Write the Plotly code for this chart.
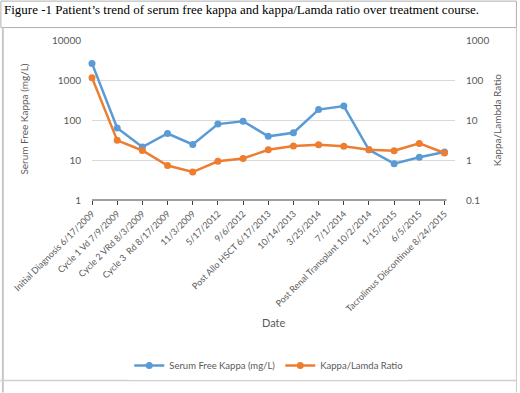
import plotly.graph_objects as go

categories = ["Initial Diagnosis 6/17/2009", "Cycle 1 Vd 7/9/2009", "Cycle 2 VRd 8/3/2009",
              "Cycle 3  Rd 8/17/2009", "11/3/2009", "5/17/2012", "9/6/2012",
              "Post Allo HSCT 6/17/2013", "10/14/2013", "3/25/2014", "7/1/2014",
              "Post Renal Transplant 10/2/2014", "1/15/2015", "6/5/2015",
              "Tacrolimus Discontinue 8/24/2015"]
serum_free_kappa = [2600, 63, 21, 46, 24.5, 79, 93, 39, 48, 182, 223, 18, 8.1, 11.7, 15.9]
kappa_lambda_ratio = [114, 3.1, 1.73, 0.73, 0.5, 0.93, 1.09, 1.8, 2.25, 2.4, 2.2, 1.8, 1.7, 2.6, 1.5]
left_ticks = [1, 10, 100, 1000, 10000]
right_ticks = [0.1, 1, 10, 100, 1000]

W, H = 520, 393
L, R, T, B = 91.7, 455.0, 39.5, 200.0

def px(x):
    return (x - L) / (R - L)

def py(y):
    return (B - y) / (B - T)

BLUE = "#5B9BD5"
ORANGE = "#ED7D31"
FONT = "Lato"
GRAY = "#595959"

fig = go.Figure()
fig.add_trace(go.Scatter(x=categories, y=serum_free_kappa, name="Serum Free Kappa (mg/L)",
                         mode="lines+markers", line=dict(color=BLUE, width=2.5),
                         marker=dict(size=7, color=BLUE), cliponaxis=False))
fig.add_trace(go.Scatter(x=categories, y=kappa_lambda_ratio, name="Kappa/Lamda Ratio",
                         mode="lines+markers", line=dict(color=ORANGE, width=2.5),
                         marker=dict(size=7, color=ORANGE), yaxis="y2", cliponaxis=False))

fig.update_layout(
    width=W, height=H,
    margin=dict(l=L, r=W - R, t=T, b=H - B),
    paper_bgcolor="white", plot_bgcolor="white",
    font=dict(family=FONT, color=GRAY, size=10),
    showlegend=True,
    legend=dict(orientation="h", x=px(129), xanchor="left", y=py(366), yanchor="middle",
                font=dict(size=9.5, color=GRAY), itemwidth=30, tracegroupgap=0),
    xaxis=dict(type="category", range=[0, (R - L) / 25.2], showgrid=False,
               tickangle=-45, tickfont=dict(size=9, color=GRAY), ticks="outside",
               ticklen=4, tickcolor="#404040", showline=False, zeroline=False,
               categoryorder="array", categoryarray=categories),
    yaxis=dict(type="log", range=[0, 4], tickvals=left_ticks,
               ticktext=[str(v) for v in left_ticks], showgrid=True,
               gridcolor="#D9D9D9", gridwidth=1, zeroline=False, showline=False,
               ticks="outside", ticklen=8, tickcolor="rgba(0,0,0,0)",
               tickfont=dict(size=10, color=GRAY)),
    yaxis2=dict(type="log", range=[-1, 3], overlaying="y", side="right",
                tickvals=right_ticks, ticktext=[str(v) for v in right_ticks],
                showgrid=False, zeroline=False, showline=False,
                ticks="outside", ticklen=8, tickcolor="rgba(0,0,0,0)",
                tickfont=dict(size=10, color=GRAY)),
)

shapes = []
shapes.append(dict(type="line", xref="paper", yref="paper", x0=0, x1=px(446.5), y0=0, y1=0,
                   line=dict(color="#404040", width=1.2)))
shapes.append(dict(type="rect", xref="paper", yref="paper", x0=px(0.5), x1=px(516.5),
                   y0=py(27), y1=py(0.5), line=dict(color="#B0B0B0", width=1)))
shapes.append(dict(type="line", xref="paper", yref="paper", x0=px(2.5), x1=px(2.5),
                   y0=py(27), y1=py(393), line=dict(color="#C8C8C8", width=2)))
shapes.append(dict(type="line", xref="paper", yref="paper", x0=px(516.5), x1=px(516.5),
                   y0=py(27), y1=py(393), line=dict(color="#C8C8C8", width=1)))
shapes.append(dict(type="line", xref="paper", yref="paper", x0=px(0), x1=px(516.5),
                   y0=py(381), y1=py(381), line=dict(color="#D0D0D0", width=1.5)))
fig.update_layout(shapes=shapes)

annotations = [
    dict(text="Figure -1 Patient\u2019s trend of serum free kappa and kappa/Lamda ratio over treatment course.",
         x=px(2), y=py(8.5), xanchor="left", yanchor="middle",
         font=dict(family="Liberation Serif", size=13, color="#000000")),
    dict(text="Serum Free Kappa (mg/L)", x=px(24), y=py(119), textangle=-90,
         xanchor="center", yanchor="middle", font=dict(size=10, color=GRAY)),
    dict(text="Kappa/Lambda Ratio", x=px(497), y=py(119), textangle=-90,
         xanchor="center", yanchor="middle", font=dict(size=10, color=GRAY)),
    dict(text="Date", x=px(273.5), y=py(323), xanchor="center", yanchor="middle",
         font=dict(size=11, color=GRAY)),
]
for a in annotations:
    a.update(xref="paper", yref="paper", showarrow=False)
fig.update_layout(annotations=annotations)

fig.write_html("out.html", config={"displayModeBar": False},
               post_script="document.body.style.margin='0';document.body.style.overflow='hidden';")
